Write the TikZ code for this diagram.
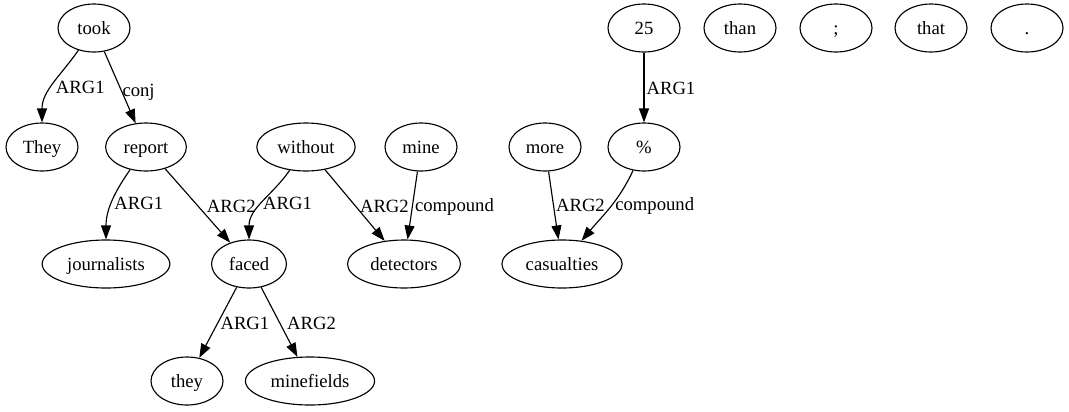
\documentclass[tikz,border=0pt]{standalone}
\usepackage{fontspec}
\setmainfont{Liberation Serif}
\usepackage{tikz}
\usetikzlibrary{shapes.geometric, arrows.meta, positioning}

\tikzset{
    word/.style={draw, ellipse, line width=0.85pt, font=\fontsize{14}{16}\selectfont,
        minimum width=54pt, minimum height=36pt, inner xsep=4.7pt, inner ysep=2pt,
        text height=12pt, text depth=3pt},
    rel/.style={draw, line width=0.85pt, -{Triangle[length=10.5pt, width=7.5pt]}},
    lbl/.style={font=\fontsize{14}{16}\selectfont, anchor=west, inner sep=1.5pt,
        text height=9.5pt, text depth=3pt, yshift=-2pt}
}

\begin{document}
\begin{tikzpicture}[x=0.75pt, y=-0.75pt]
    \useasboundingbox (0,0) rectangle (1069,411);

    % top row
    \node[word] (took) at (94,28) {took};
    \node[word] (n25) at (644,28) {25};
    \node[word] (than) at (740,28) {than};
    \node[word] (semi) at (836,28) {;};
    \node[word] (that) at (931,28) {that};
    \node[word] (dot) at (1027,28) {.};

    % second row
    \node[word] (They) at (42,147) {They};
    \node[word] (report) at (146,147) {report};
    \node[word] (without) at (306,147) {without};
    \node[word] (mine) at (421,147) {mine};
    \node[word] (more) at (545,147) {more};
    \node[word] (pct) at (644,147) {\%};

    % third row
    \node[word] (journalists) at (106,264) {journalists};
    \node[word] (faced) at (249,264) {faced};
    \node[word] (detectors) at (404,264) {detectors};
    \node[word] (casualties) at (562,264) {casualties};

    % bottom row
    \node[word] (they) at (187,381) {they};
    \node[word] (minefields) at (310,381) {minefields};

    % relations
    \draw[rel] (took) to[out=235, in=90] node[lbl, pos=0.5, yshift=-1.5pt] {ARG1} (They);
    \draw[rel] (took) -- node[lbl, pos=0.5, yshift=-1.5pt] {conj} (report);
    \draw[rel] (report) to[out=235, in=90] node[lbl, pos=0.5] {ARG1} (journalists);
    \draw[rel] (report) -- node[lbl, pos=0.5, xshift=5pt] {ARG2} (faced);
    \draw[rel] (without) to[out=235, in=90] node[lbl, pos=0.5, xshift=-1.5pt] {ARG1} (faced);
    \draw[rel] (without) -- node[lbl, pos=0.5, xshift=2pt] {ARG2} (detectors);
    \draw[rel] (mine) -- node[lbl, pos=0.5, yshift=1pt] {compound} (detectors);
    \draw[rel] (n25) -- node[lbl, pos=0.5] {ARG1} (pct);
    \draw[rel] (more) -- node[lbl, pos=0.5, yshift=1pt] {ARG2} (casualties);
    \draw[rel] (pct) to[out=245, in=50] node[lbl, pos=0.5, xshift=2pt, yshift=3pt] {compound} (casualties);
    \draw[rel] (faced) -- node[lbl, pos=0.5] {ARG1} (they);
    \draw[rel] (faced) -- node[lbl, pos=0.5, xshift=4pt] {ARG2} (minefields);
\end{tikzpicture}
\end{document}
